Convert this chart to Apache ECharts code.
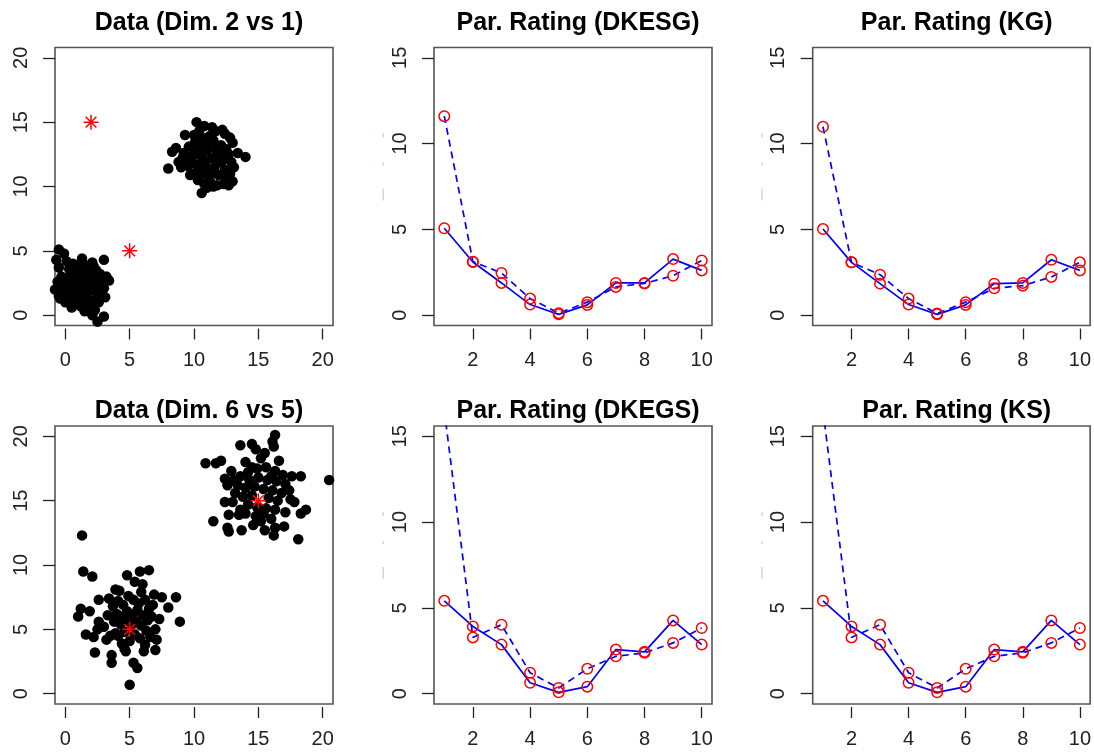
<!DOCTYPE html>
<html>
<head>
<meta charset="utf-8">
<script src="https://cdn.jsdelivr.net/npm/echarts@6/dist/echarts.min.js"></script>
<style>
  html, body { margin: 0; padding: 0; background: #fff; }
  #chart { width: 1094px; height: 752px; }
</style>
</head>
<body>
<div id="chart"></div>
<script>
// ---- data ---------------------------------------------------------------
// Data panel 1: dimension 1 (x) vs dimension 2 (y)
const dim21Low = [
  [-0.5,5.1],[-0.1,4.8],[1.3,4.4],[2.1,4.1],[3.0,4.3],[0.8,3.8],[-0.5,3.7],[3.2,3.0],[3.4,2.7],[2.9,1.5],
  [3.1,1.4],[2.1,0.0],[3.0,-0.1],[2.5,-0.5],[0.5,0.6],[-0.5,1.5],[-0.8,2.0],[0.0,1.0],[1.5,3.9],[1.8,3.6],
  [1.1,3.4],[0.4,3.2],[-0.3,3.0],[2.4,3.5],[2.7,3.2],[2.2,2.9],[1.6,2.8],[0.9,2.7],[0.2,2.5],[-0.6,2.6],
  [-0.2,2.2],[0.6,2.1],[1.3,2.3],[1.9,2.2],[2.6,2.4],[3.0,2.1],[2.4,1.8],[1.7,1.7],[1.0,1.6],[0.3,1.7],
  [-0.4,1.3],[0.2,1.2],[0.8,1.1],[1.4,1.2],[2.0,1.1],[2.6,1.0],[1.8,0.6],[1.2,0.7],[0.6,0.8],[2.3,0.4],
  [1.5,0.3],[0.1,4.2],[0.6,4.0],[-0.7,4.3],[1.0,3.0],[1.9,3.1],[0.3,3.6],[-0.1,2.8],[1.2,1.9],[0.5,1.5],
  [2.0,2.6],[1.4,2.6],[0.7,2.4],[-0.5,1.9],[2.8,2.8],[2.3,2.3],[1.7,1.3],[0.9,2.0],[2.5,1.4],[-0.3,1.7],
  [1.1,1.0],[0.0,2.0],[1.6,3.3],[2.2,3.8],[0.4,2.9],[1.3,4.1],[-0.4,2.4],[2.7,1.9]
];
const dim21High = [
  [10.2,15.0],[10.8,14.7],[9.3,14.0],[11.7,14.3],[12.4,14.1],[13.0,13.4],[8.3,12.7],[8.6,13.0],[8.0,11.4],[9.1,12.2],
  [14.0,12.3],[12.7,12.5],[13.0,10.4],[12.7,10.1],[10.6,9.5],[11.8,10.1],[11.3,10.3],[9.7,10.9],[9.8,11.8],[10.4,14.3],
  [11.2,13.9],[10.1,13.5],[10.7,13.3],[11.5,13.6],[12.1,13.2],[9.6,13.1],[10.3,12.9],[11.0,12.8],[11.8,12.7],[12.5,12.9],
  [9.2,12.6],[9.9,12.4],[10.6,12.3],[11.4,12.2],[12.2,12.0],[12.9,11.9],[8.8,11.9],[9.5,11.6],[10.2,11.7],[10.9,11.6],
  [11.6,11.5],[12.4,11.3],[13.1,11.5],[9.9,11.0],[10.5,10.9],[11.2,10.8],[11.9,10.9],[12.5,10.6],[10.8,10.2],[11.5,10.0],
  [10.3,10.5],[10.0,14.0],[11.4,14.6],[12.8,13.8],[9.4,12.1],[13.4,12.6],[12.0,12.4],[10.9,12.0],[11.3,11.1],[10.0,12.9],
  [11.7,12.9],[10.4,11.3],[12.8,11.0],[11.1,13.4],[9.0,11.5],[12.2,14.4],[10.6,13.8],[11.9,11.9],[10.7,11.0],[12.3,10.2],
  [11.0,9.9]
];
const dim21Centers = [[2,15],[5,5]];

// Data panel 2: dimension 5 (x) vs dimension 6 (y)
const dim65Low = [
  [1.3,12.3],[1.4,9.5],[2.1,9.1],[1.0,6.0],[1.2,6.6],[1.9,6.4],[1.6,4.6],[2.2,4.4],[2.3,3.2],[2.6,7.3],
  [3.4,7.4],[2.6,5.6],[2.5,5.0],[3.9,8.1],[3.6,3.0],[3.6,2.4],[4.7,3.3],[5.0,0.7],[5.3,2.4],[5.6,2.0],
  [4.8,9.2],[5.4,8.7],[5.8,9.5],[6.5,9.6],[6.0,8.5],[6.9,7.7],[7.5,7.5],[8.0,6.7],[8.6,7.5],[8.9,5.6],
  [7.0,3.4],[6.2,3.8],[7.1,4.2],[7.0,5.0],[6.7,6.0],[3.9,4.7],[3.5,4.5],[3.7,6.8],[4.1,7.2],[4.5,6.9],
  [4.9,7.6],[5.3,7.3],[5.7,7.0],[6.2,7.3],[6.5,6.6],[4.0,6.2],[4.4,6.0],[4.8,6.4],[5.2,6.1],[5.6,6.5],
  [6.0,6.1],[6.4,5.7],[3.8,5.6],[4.3,5.4],[4.7,5.7],[5.1,5.3],[5.5,5.6],[5.9,5.3],[6.3,4.9],[4.1,4.5],
  [4.6,4.8],[5.4,4.6],[5.8,4.3],[6.6,4.4],[4.4,3.9],[5.0,4.1],[3.3,6.1],[3.0,5.2],[4.2,8.0],[5.9,7.9],
  [6.8,6.9],[7.3,5.8],[3.2,4.2],[4.6,3.5],[6.1,3.3]
];
const dim65High = [
  [16.3,20.1],[16.1,19.6],[16.2,19.2],[15.5,18.7],[13.6,19.3],[14.5,19.4],[10.9,17.9],[11.7,17.9],[12.1,18.1],[12.4,16.7],
  [12.6,16.2],[20.5,16.6],[18.3,16.9],[17.4,15.8],[17.5,15.1],[18.7,14.3],[18.3,14.0],[17.1,14.1],[17.0,13.0],[16.3,12.9],
  [16.2,12.3],[18.1,12.0],[15.5,12.7],[15.2,13.4],[14.8,13.8],[13.7,12.7],[12.7,12.6],[12.6,12.9],[11.5,13.4],[12.7,13.9],
  [13.5,13.9],[12.4,14.9],[13.0,14.9],[13.1,16.6],[14.0,18.0],[14.5,17.6],[14.2,17.2],[14.9,17.5],[15.6,17.6],[16.3,17.3],
  [16.9,17.0],[13.6,16.9],[14.3,16.6],[15.0,16.8],[15.7,16.6],[16.4,16.5],[17.1,16.3],[13.4,16.2],[14.0,16.0],[14.7,16.1],
  [15.4,15.9],[16.1,15.8],[16.8,15.6],[13.8,15.3],[14.5,15.4],[15.8,15.2],[16.5,15.0],[14.2,14.7],[14.9,14.5],[15.6,14.4],
  [16.3,14.3],[14.0,14.0],[15.4,14.0],[16.0,13.6],[14.6,13.1],[13.2,15.6],[17.6,16.9],[12.9,17.3],[15.2,18.3],[16.6,18.1],
  [17.8,14.9],[13.6,14.3],[14.8,19.0],[16.0,16.9]
];
const dim65Centers = [[15,15],[5,5]];

// Parameter ratings, number of clusters 1..10
const clusterCounts = [1, 2, 3, 4, 5, 6, 7, 8, 9, 10];
const dkesgSolid  = [5.07, 3.10, 1.88, 0.62, 0.05, 0.60, 1.88, 1.88, 3.27, 2.61];
const dkesgDashed = [11.60, 3.12, 2.46, 0.97, 0.12, 0.76, 1.65, 1.85, 2.30, 3.19];
const kgSolid     = [5.02, 3.08, 1.84, 0.62, 0.05, 0.60, 1.84, 1.88, 3.23, 2.61];
const kgDashed    = [10.98, 3.08, 2.36, 0.97, 0.10, 0.76, 1.57, 1.72, 2.23, 3.08];
const dkegsSolid  = [5.41, 3.92, 2.86, 0.64, 0.08, 0.41, 2.57, 2.44, 4.27, 2.86];
const dkegsDashed = [16.5, 3.28, 4.02, 1.22, 0.33, 1.45, 2.18, 2.38, 2.96, 3.83];
const ksSolid     = [5.41, 3.92, 2.86, 0.64, 0.08, 0.41, 2.57, 2.44, 4.27, 2.86];
const ksDashed    = [16.5, 3.28, 4.02, 1.22, 0.33, 1.45, 2.18, 2.38, 2.96, 3.83];

// tick labels
const dataTicks = [0, 5, 10, 15, 20];
const ratingXTicks = [2, 4, 6, 8, 10];
const ratingYTicks = [0, 5, 10, 15];

// ---- layout ---------------------------------------------------------------
const FONT = '"Liberation Sans", Arial, Helvetica, sans-serif';
const BOX = 278;
const COL_LEFT = [55, 434, 812.7];
const ROW_TOP = [47.5, 426];
const TITLE_TOP = [6, 394];

// asterisk marker (plus and cross overlaid), all sub-paths wound the same way
const STAR = 'path://M1 9.1H19V10.9H1Z M9.1 1H10.9V19H9.1Z ' +
  'M4.236 2.964L17.036 15.764L15.764 17.036L2.964 4.236Z ' +
  'M15.764 2.964L17.036 4.236L4.236 17.036L2.964 15.764Z';

const panels = [
  { title: 'Data (Dim. 2 vs 1)',   col: 0, row: 0, kind: 'data',   groups: [dim21Low, dim21High], centers: dim21Centers },
  { title: 'Par. Rating (DKESG)',  col: 1, row: 0, kind: 'rating', solid: dkesgSolid, dashed: dkesgDashed },
  { title: 'Par. Rating (KG)',     col: 2, row: 0, kind: 'rating', solid: kgSolid, dashed: kgDashed },
  { title: 'Data (Dim. 6 vs 5)',   col: 0, row: 1, kind: 'data',   groups: [dim65Low, dim65High], centers: dim65Centers },
  { title: 'Par. Rating (DKEGS)',  col: 1, row: 1, kind: 'rating', solid: dkegsSolid, dashed: dkegsDashed },
  { title: 'Par. Rating (KS)',     col: 2, row: 1, kind: 'rating', solid: ksSolid, dashed: ksDashed }
];

const titles = [], grids = [], xAxes = [], yAxes = [], series = [], graphics = [];

function axisBase(i, min, max, ticks) {
  return {
    type: 'value', gridIndex: i, min: min, max: max,
    axisLine: { show: false, onZero: false },
    splitLine: { show: false },
    axisTick: { show: true, customValues: ticks, length: 11, lineStyle: { color: '#222', width: 1.3 } },
    axisLabel: { customValues: ticks, fontSize: 20, color: '#222', fontFamily: FONT }
  };
}

panels.forEach((p, i) => {
  const left = COL_LEFT[p.col], top = ROW_TOP[p.row];
  titles.push({
    text: p.title, left: left + BOX / 2, top: TITLE_TOP[p.row], textAlign: 'center',
    textStyle: { fontSize: 25, fontWeight: 'bold', color: '#000', fontFamily: FONT }
  });
  grids.push({
    left: left, top: top, width: BOX, height: BOX, show: true,
    borderColor: '#555', borderWidth: 1.6, backgroundColor: 'transparent'
  });

  const isData = p.kind === 'data';
  const x = axisBase(i, isData ? -0.8 : 0.64, isData ? 20.8 : 10.36, isData ? dataTicks : ratingXTicks);
  x.offset = 3;
  x.axisLabel.margin = 22;
  const y = axisBase(i, isData ? -0.8 : -0.6, isData ? 20.8 : 15.6, isData ? dataTicks : ratingYTicks);
  y.axisTick.length = 12;
  y.axisLabel.rotate = 90;
  y.axisLabel.margin = 24;
  xAxes.push(x);
  yAxes.push(y);

  if (isData) {
    p.groups.forEach(g => series.push({
      type: 'scatter', xAxisIndex: i, yAxisIndex: i, data: g, clip: true, silent: true,
      symbol: 'circle', symbolSize: 10.5, itemStyle: { color: '#000', opacity: 1 }
    }));
    series.push({
      type: 'scatter', xAxisIndex: i, yAxisIndex: i, data: p.centers, clip: true, silent: true,
      symbol: STAR, symbolSize: 15, itemStyle: { color: '#ff0000', opacity: 1 }, z: 3
    });
  } else {
    [[p.dashed, [7, 5]], [p.solid, 'solid']].forEach(([vals, dash]) => series.push({
      type: 'line', xAxisIndex: i, yAxisIndex: i, clip: true, silent: true,
      data: clusterCounts.map((k, j) => [k, vals[j]]),
      symbol: 'circle', symbolSize: 10.5, showSymbol: true,
      itemStyle: { color: 'rgba(0,0,0,0)', borderColor: '#ff0000', borderWidth: 1.5 },
      lineStyle: { color: '#0000ff', width: 1.7, type: dash }
    }));
    // faint marks left of the rating axis labels
    [[86, 4], [115, 3], [141, 12]].forEach(([dy, h]) => graphics.push({
      type: 'rect', silent: true,
      shape: { x: left - 51.5, y: top + dy, width: 1.5, height: h },
      style: { fill: '#c3d8f2' }
    }));
  }
});

const chart = echarts.init(document.getElementById('chart'), null, { renderer: 'canvas' });
chart.setOption({
  animation: false,
  backgroundColor: '#fff',
  title: titles,
  grid: grids,
  xAxis: xAxes,
  yAxis: yAxes,
  series: series,
  graphic: graphics
});
</script>
</body>
</html>
